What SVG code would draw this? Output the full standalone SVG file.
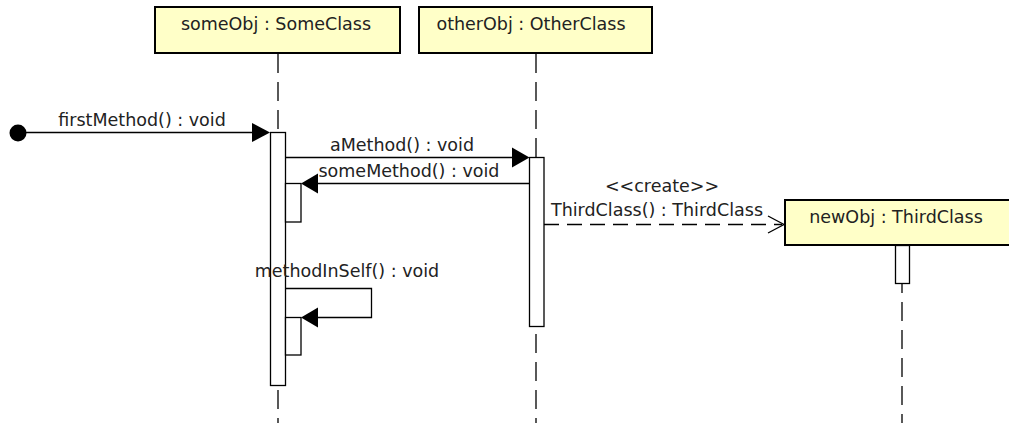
<svg xmlns="http://www.w3.org/2000/svg" width="1009" height="423" viewBox="0 0 1009 423">
<style>
text{font-family:"DejaVu Sans","Liberation Sans",sans-serif;font-size:17.5px;fill:#222;text-anchor:middle}
.box{fill:#ffffc8;stroke:#000;stroke-width:2}
.life{stroke:#000;stroke-width:1.3;stroke-dasharray:19 9;fill:none}
.act{fill:#fff;stroke:#000;stroke-width:1.3}
.msg{stroke:#000;stroke-width:1.3;fill:none}
.dash{stroke:#000;stroke-width:1.3;fill:none;stroke-dasharray:15 8}
.head{fill:#000}
</style>
<rect width="1009" height="423" fill="#fff"/>
<g id="lifelines">
<line class="life" x1="278" y1="54" x2="278" y2="423"/>
<line class="life" x1="536" y1="54" x2="536" y2="423"/>
<line class="life" x1="902" y1="246" x2="902" y2="423"/>
</g>
<g id="someObj">
<rect class="box" x="155" y="7" width="245" height="46"/>
<text x="276" y="30">someObj : SomeClass</text>
<rect class="act" x="270.5" y="132.5" width="15" height="253"/>
<rect class="act" x="285.5" y="183.5" width="15.5" height="38.5"/>
<rect class="act" x="285.5" y="317.5" width="15.5" height="37.5"/>
</g>
<g id="otherObj">
<rect class="box" x="419" y="7" width="233" height="46"/>
<text x="531" y="30">otherObj : OtherClass</text>
<rect class="act" x="529.5" y="157.5" width="14.5" height="169"/>
</g>
<g id="newObj">
<rect class="box" x="785" y="200" width="240" height="45"/>
<text x="896" y="223">newObj : ThirdClass</text>
<rect class="act" x="895.5" y="245.5" width="14" height="38"/>
</g>
<g id="connectors">
<circle cx="18" cy="133" r="8.5" fill="#000"/>
<line class="msg" x1="18" y1="132.5" x2="254" y2="132.5"/>
<polygon class="head" points="252,123 270,132.5 252,142"/>
<text x="142" y="126">firstMethod() : void</text>
<line class="msg" x1="285" y1="157.5" x2="514" y2="157.5"/>
<polygon class="head" points="512,147.5 529.5,157.5 512,167.5"/>
<text x="402" y="151">aMethod() : void</text>
<line class="msg" x1="529" y1="183.5" x2="316" y2="183.5"/>
<polygon class="head" points="318,173.5 301,183.5 318,193.5"/>
<text x="409" y="177">someMethod() : void</text>
<polyline class="msg" points="285,288.5 371.5,288.5 371.5,317.5 316,317.5"/>
<polygon class="head" points="318,307.5 301,317.5 318,327.5"/>
<text x="347" y="277">methodInSelf() : void</text>
<line class="dash" x1="544" y1="224.5" x2="782" y2="224.5"/>
<polyline class="msg" points="768,216 784,224.5 768,233"/>
<text x="662" y="192">&lt;&lt;create&gt;&gt;</text>
<text x="657" y="216">ThirdClass() : ThirdClass</text>
</g>
</svg>
